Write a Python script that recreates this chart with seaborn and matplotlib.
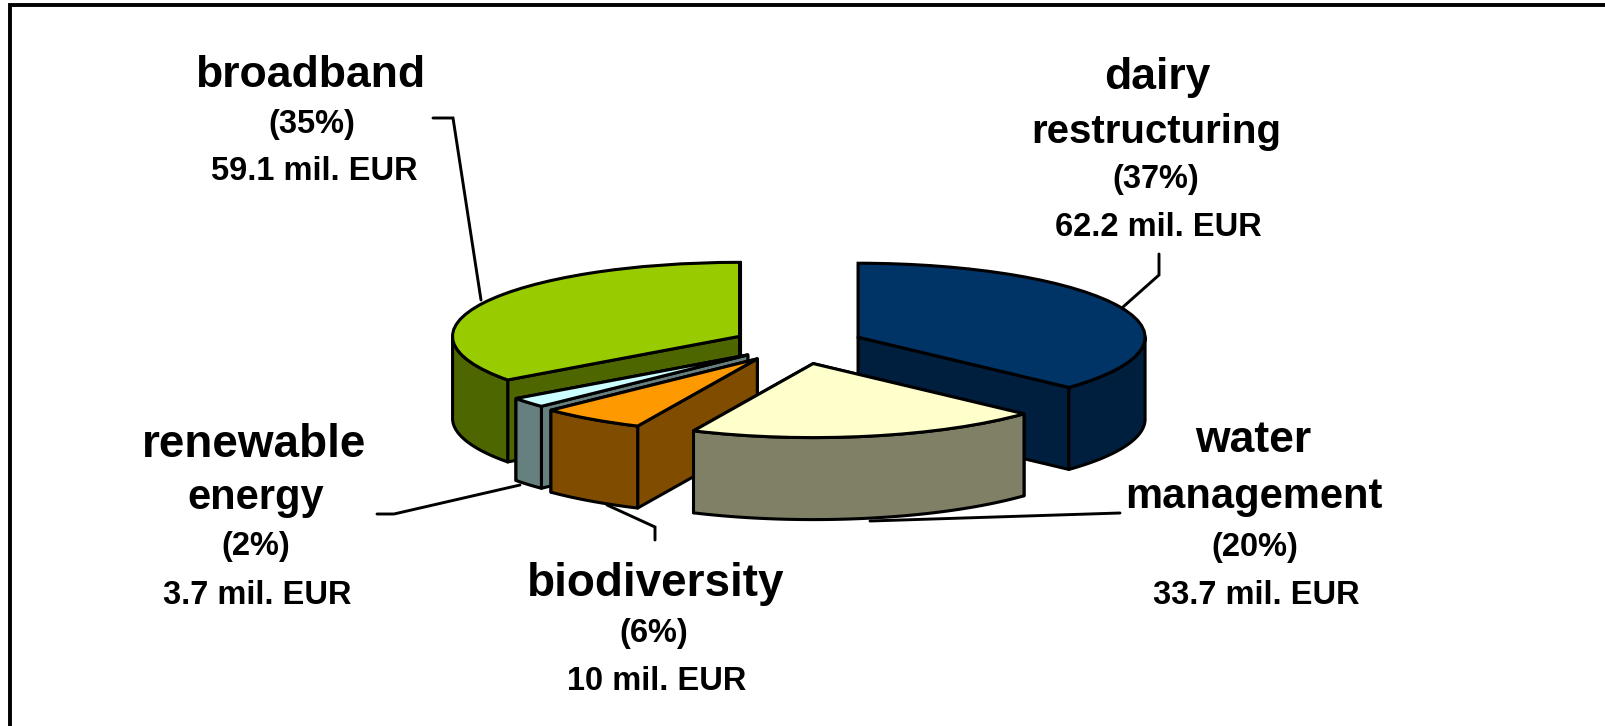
import numpy as np
import matplotlib
matplotlib.use('Agg')
import matplotlib.pyplot as plt
import seaborn as sns

# data
names = ['dairy restructuring', 'water management', 'biodiversity', 'renewable energy', 'broadband']
values = [62.2, 33.7, 10, 3.7, 59.1]
top_colors = ['#003366', '#FFFFCC', '#FF9900', '#CCFFFF', '#99CC00']
side_colors = ['#001F3F', '#808066', '#804D00', '#668080', '#4D6600']
explode = [0.2285, 0.27, 0.245, 0.2285, 0.2285]

label_text = ['dairy', 'restructuring', '(37%)', '62.2 mil. EUR',
              'water', 'management', '(20%)', '33.7 mil. EUR',
              'biodiversity', '(6%)', '10 mil. EUR',
              'renewable', 'energy', '(2%)', '3.7 mil. EUR',
              'broadband', '(35%)', '59.1 mil. EUR']
label_x = [1157, 1156, 1156, 1158,
           1253, 1254, 1255, 1256,
           656, 654, 657,
           254, 256, 256, 257,
           310, 312, 314]
label_y = [89, 143, 188, 236,
           452, 508, 556, 604,
           596, 642, 690,
           457, 509, 555, 604,
           87, 133, 180]
label_size = [32, 29, 23.5, 23.5,
              32, 30, 23.5, 23.5,
              33, 23.5, 23.5,
              33, 30, 23.5, 23.5,
              32, 23.5, 23.5]

leaders = [([1159, 1159, 1123], [254, 275, 307]),
           ([433, 453, 481], [118, 118, 300]),
           ([377, 394, 520], [514, 514, 485]),
           ([655, 655, 607], [540, 527, 505]),
           ([1120, 870], [513, 521])]

W, H = 1606, 726
cx, cy = 798, 344      # pie centre in pixels
rx, ry = 287, 74       # squashed radius
depth = 82 / ry
lw = 2.2

sns.set_theme(style='white')
plt.rcParams['font.family'] = ['Liberation Sans', 'DejaVu Sans']

fig = plt.figure(figsize=(W / 100, H / 100), dpi=100)
ax = fig.add_axes([0, 0, 1, 1])
wedges, _ = ax.pie(values, colors=top_colors, startangle=90, counterclock=False,
                   explode=explode,
                   wedgeprops={'edgecolor': 'black', 'linewidth': lw})
ax.set_aspect('auto')
ax.set_xlim(-cx / rx, (W - cx) / rx)
ax.set_ylim((cy - H) / ry, cy / ry)
ax.axis('off')

# side walls, back slices first
order = [0, 4, 3, 2, 1]
for n, i in enumerate(order):
    w = wedges[i]
    z = 2 + n * 5
    x0, y0 = w.center
    kw = dict(facecolor=side_colors[i], edgecolor='black', linewidth=lw, joinstyle='round')
    angles = sorted([w.theta1, w.theta2], key=lambda a: np.sin(np.radians(a)), reverse=True)
    for a in angles:
        xr = x0 + np.cos(np.radians(a))
        yr = y0 + np.sin(np.radians(a))
        ax.fill([x0, xr, xr, x0], [y0, yr, yr - depth, y0 - depth], zorder=z, **kw)
    t = np.radians(np.linspace(w.theta1, w.theta2, 200))
    t = t[np.sin(t) <= 0]
    if len(t):
        xa = x0 + np.cos(t)
        ya = y0 + np.sin(t)
        ax.fill(np.r_[xa, xa[::-1]], np.r_[ya, ya[::-1] - depth], zorder=z + 1, **kw)
    w.set_zorder(z + 2)

# frame, leader lines and labels in pixel space
over = fig.add_axes([0, 0, 1, 1], facecolor='none')
over.set_xlim(0, W)
over.set_ylim(H, 0)
over.axis('off')
over.plot([10, 10, W], [H, 5, 5], color='black', lw=2.8, solid_joinstyle='miter')
for xs, ys in leaders:
    over.plot(xs, ys, color='black', lw=2.1, solid_joinstyle='miter')
for s, x, y, size in zip(label_text, label_x, label_y, label_size):
    over.text(x, y, s, ha='center', va='baseline', fontsize=size, fontweight='bold', color='black')

fig.savefig('out.png', dpi=100)
